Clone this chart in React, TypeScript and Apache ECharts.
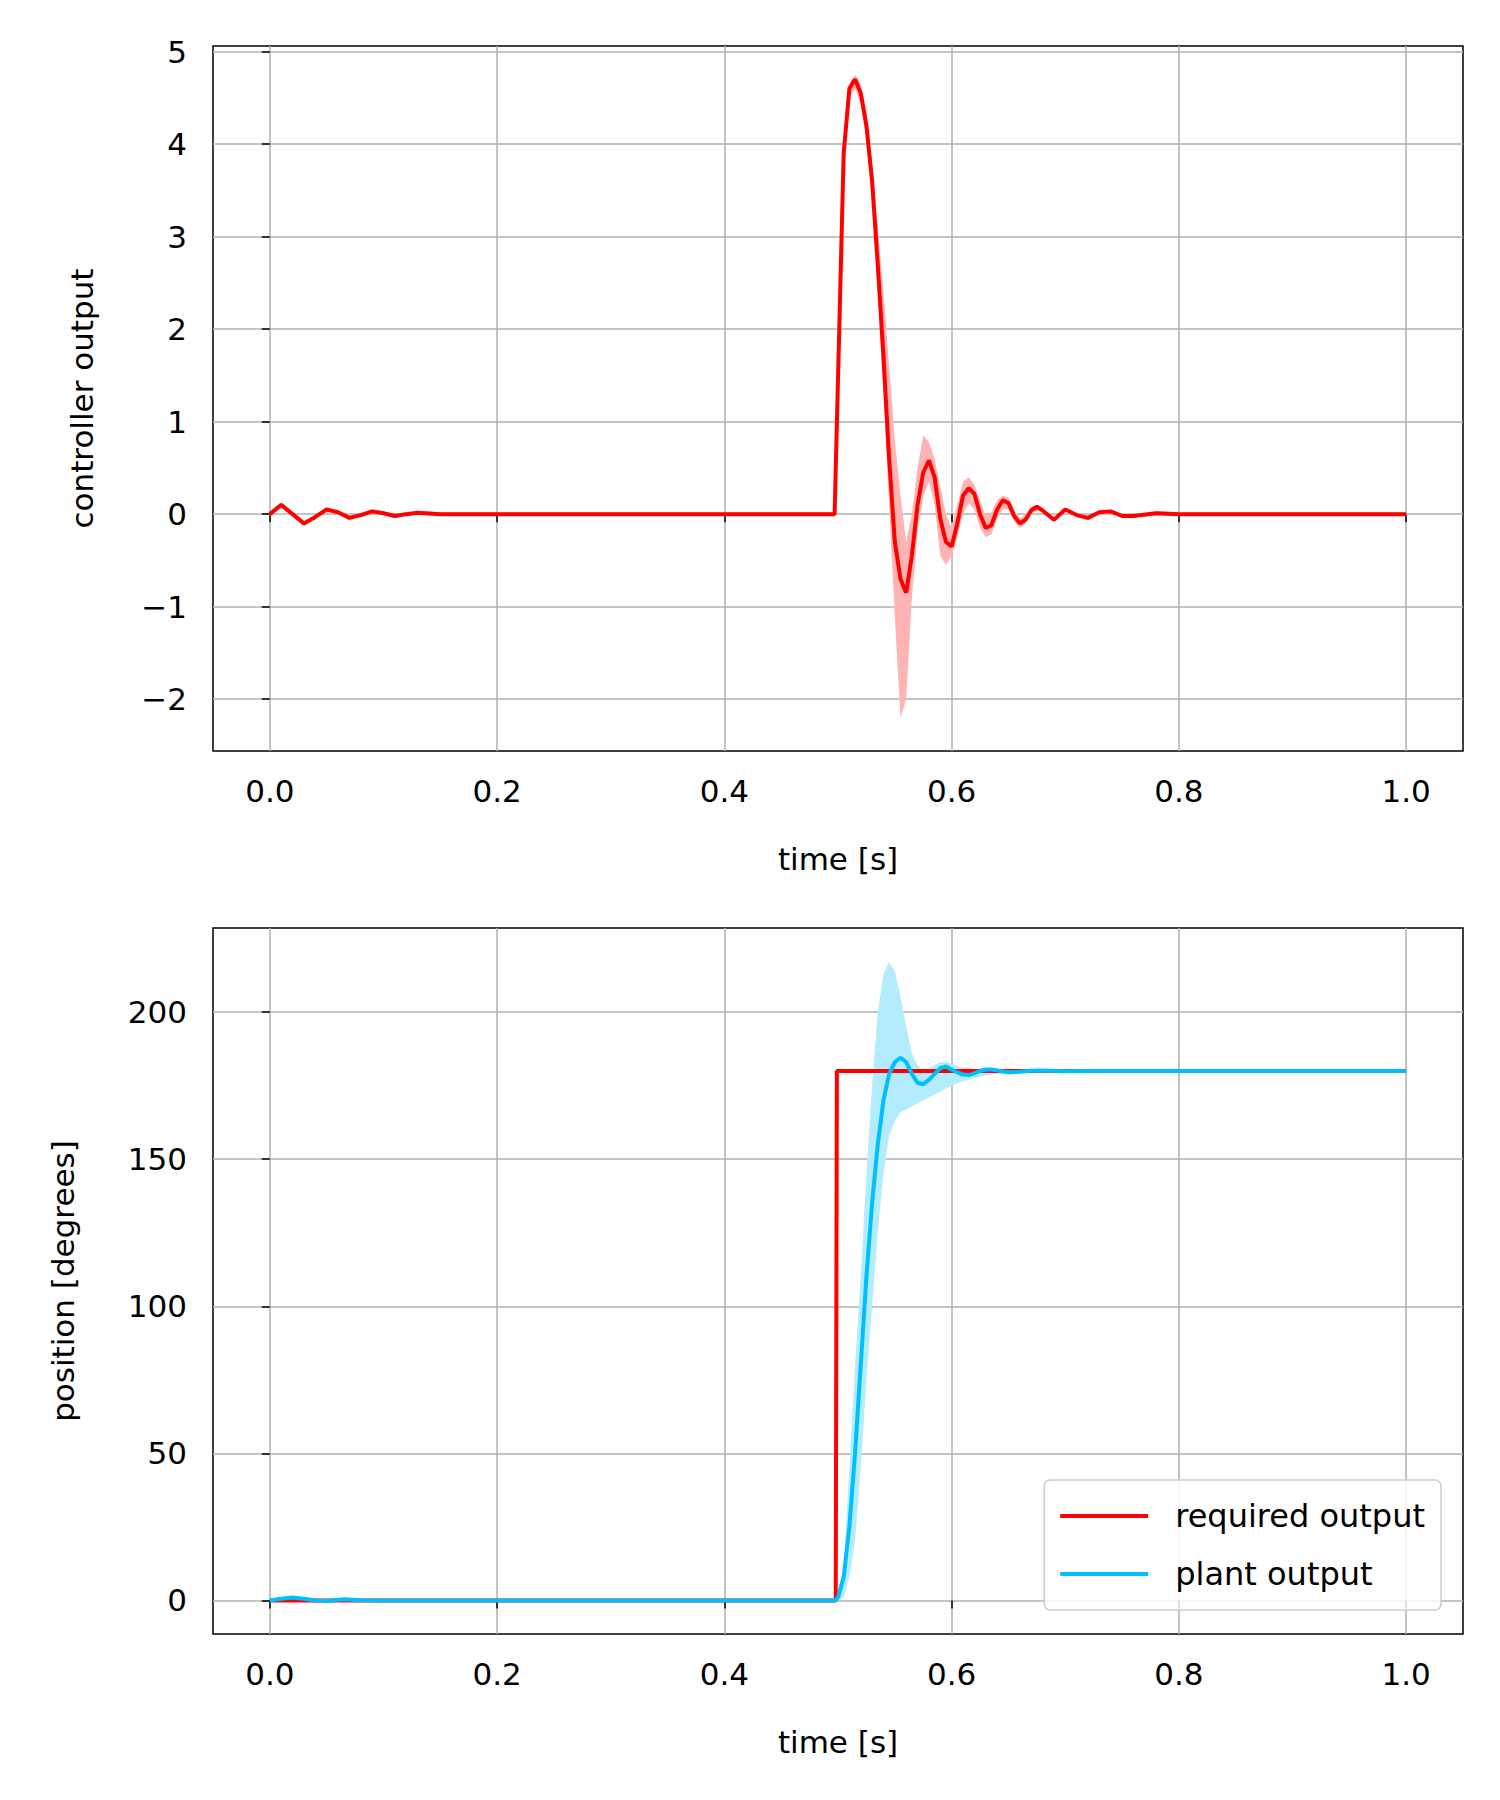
import React, { useEffect, useRef } from 'react';
import * as echarts from 'echarts';

// top panel: controller output
const tTop = [0, 0.01, 0.02, 0.03, 0.04, 0.05, 0.06, 0.07, 0.08, 0.09, 0.1, 0.11, 0.12, 0.13, 0.15, 0.2, 0.497,
  0.505, 0.51, 0.515, 0.52, 0.525, 0.53, 0.535, 0.54, 0.545, 0.55, 0.555, 0.56, 0.565, 0.57, 0.575, 0.58, 0.585,
  0.59, 0.595, 0.6, 0.605, 0.61, 0.615, 0.62, 0.625, 0.63, 0.635, 0.64, 0.645, 0.65, 0.655, 0.66, 0.665, 0.67, 0.675,
  0.68, 0.69, 0.7, 0.71, 0.72, 0.73, 0.74, 0.75, 0.76, 0.78, 0.8, 1.0];
const ctrlMean = [0, 0.1, 0.0, -0.1, -0.03, 0.05, 0.02, -0.04, -0.01, 0.03, 0.01, -0.02, 0, 0.015, 0, 0, 0,
  3.9, 4.6, 4.7, 4.55, 4.2, 3.6, 2.7, 1.7, 0.6, -0.3, -0.7, -0.85, -0.45, 0.1, 0.45, 0.58, 0.4,
  -0.05, -0.3, -0.35, -0.1, 0.2, 0.28, 0.22, 0, -0.15, -0.12, 0.05, 0.15, 0.12, -0.02, -0.1, -0.06, 0.04, 0.08,
  0.04, -0.06, 0.05, -0.01, -0.04, 0.02, 0.03, -0.02, -0.02, 0.01, 0, 0];
// band over the transient 0.505..0.675 (index 17..51)
const ctrlLowT = [3.8, 4.5, 4.6, 4.45, 4.05, 3.4, 2.4, 1.3, 0.1, -1.1, -2.2, -2.0, -0.9, -0.2, 0.2, 0.35, 0.1,
  -0.45, -0.55, -0.45, -0.25, 0.0, 0.12, 0.05, -0.15, -0.25, -0.22, -0.05, 0.05, 0.05, -0.08, -0.15, -0.1, 0.0, 0.04];
const ctrlHighT = [4.0, 4.65, 4.75, 4.65, 4.35, 3.8, 3.1, 2.4, 1.6, 0.8, 0.2, -0.3, 0.0, 0.5, 0.85, 0.78, 0.6,
  0.3, 0.0, -0.15, 0.1, 0.35, 0.4, 0.32, 0.15, -0.02, 0.02, 0.15, 0.2, 0.18, 0.05, -0.05, 0.0, 0.08, 0.1];
const ctrlBandStart = 17;

// bottom panel: position
const requiredT = [0, 0.498, 0.499, 1.0];
const requiredV = [0, 0, 180, 180];
const tBot = [0, 0.01, 0.02, 0.03, 0.04, 0.05, 0.065, 0.08, 0.1, 0.2, 0.497,
  0.5, 0.505, 0.51, 0.515, 0.52, 0.525, 0.53, 0.535, 0.54, 0.545, 0.55, 0.555, 0.56, 0.565, 0.57, 0.575,
  0.58, 0.585, 0.59, 0.595, 0.6, 0.605, 0.61, 0.615, 0.62, 0.625, 0.63, 0.635, 0.64, 0.645, 0.65,
  0.66, 0.67, 0.68, 0.7, 0.72, 0.75, 0.8, 1.0];
const plantMean = [0, 0.6, 1, 0.6, 0, -0.2, 0.4, 0.1, 0, 0, 0,
  1, 8, 25, 50, 80, 110, 135, 155, 170, 179, 183, 184.5, 183, 179, 176, 175.5,
  177, 179, 181, 181.5, 180.5, 179.5, 178.8, 178.6, 179.2, 180, 180.5, 180.5, 180.2, 179.8, 179.6,
  179.7, 180.1, 180.2, 179.9, 180, 180, 180, 180];
const plantLowT = [0, 1, 8, 20, 45, 75, 100, 125, 145, 158, 163, 166, 167, 168, 169, 170, 171, 172, 173, 174,
  175, 175.8, 176.5, 177, 177.5, 178, 178.5, 178.8, 179, 179.1, 179.2];
const plantHighT = [2, 12, 45, 80, 110, 145, 175, 200, 213, 217, 214, 205, 195, 186, 182, 180, 181, 182, 183, 183,
  182.5, 181.8, 181, 180.8, 180.5, 180.8, 181, 181, 180.8, 180.5, 180.3];
const plantBandStart = 11;

const xTicks = [0, 0.2, 0.4, 0.6, 0.8, 1.0];
const ctrlTicks = [-2, -1, 0, 1, 2, 3, 4, 5];
const posTicks = [0, 50, 100, 150, 200];

const FONT = 'DejaVu Sans';
const FS = 31;

function band(t: number[], mean: number[], lowT: number[], highT: number[], start: number, pad: number) {
  return t.map((x, i) => [
    x,
    i >= start && i < start + lowT.length ? lowT[i - start] : mean[i] - pad,
    i >= start && i < start + highT.length ? highT[i - start] : mean[i] + pad,
  ]);
}

// filled band between low and high as one polygon
function bandSeries(data: number[][], gridIndex: number, color: string) {
  return {
    type: 'custom',
    xAxisIndex: gridIndex,
    yAxisIndex: gridIndex,
    silent: true,
    clip: true,
    data: [0],
    renderItem: (params: any, api: any) => {
      const upper = data.map((d) => api.coord([d[0], d[2]]));
      const lower = data.map((d) => api.coord([d[0], d[1]])).reverse();
      return { type: 'polygon', shape: { points: upper.concat(lower) }, style: { fill: color } };
    },
    z: 1,
  };
}

const App: React.FC = () => {
  const chartRef = useRef<HTMLDivElement>(null);

  useEffect(() => {
    const cb = band(tTop, ctrlMean, ctrlLowT, ctrlHighT, ctrlBandStart, 0.02);
    const pb = band(tBot, plantMean, plantLowT, plantHighT, plantBandStart, 0.3);

    const xAxisBase = (gridIndex: number) => ({
      type: 'value',
      gridIndex,
      min: -0.05,
      max: 1.05,
      name: 'time [s]',
      nameLocation: 'middle',
      nameGap: 92,
      nameTextStyle: { fontSize: FS, color: '#000', fontFamily: FONT },
      axisLine: { show: false },
      axisTick: { show: true, inside: false, length: 8, lineStyle: { color: '#000', width: 1.5 }, customValues: xTicks },
      axisLabel: { fontSize: FS, color: '#000', fontFamily: FONT, margin: 24, customValues: xTicks, formatter: (v: number) => v.toFixed(1) },
      splitLine: { show: true, lineStyle: { color: '#b0b0b0', width: 1.5 } },
    });
    const yAxisBase = (gridIndex: number, min: number, max: number, ticks: number[], name: string, gap: number) => ({
      type: 'value',
      gridIndex,
      min,
      max,
      name,
      nameLocation: 'middle',
      nameGap: gap,
      nameTextStyle: { fontSize: FS, color: '#000', fontFamily: FONT },
      axisLine: { show: false },
      axisTick: { show: true, inside: false, length: 8, lineStyle: { color: '#000', width: 1.5 }, customValues: ticks },
      axisLabel: {
        fontSize: FS, color: '#000', fontFamily: FONT, margin: 26, customValues: ticks,
        formatter: (v: number) => (v < 0 ? '\u2212' + Math.abs(v) : String(v)),
      },
      splitLine: { show: true, lineStyle: { color: '#b0b0b0', width: 1.5 } },
    });

    const zip = (t: number[], v: number[]) => t.map((x, i) => [x, v[i]]);

    const option = {
      animation: false,
      backgroundColor: '#fff',
      grid: [
        { left: 213, right: 37, top: 46, height: 705, show: true, borderColor: '#000', borderWidth: 1.5, backgroundColor: 'transparent' },
        { left: 213, right: 37, top: 928, height: 706, show: true, borderColor: '#000', borderWidth: 1.5, backgroundColor: 'transparent' },
      ],
      xAxis: [xAxisBase(0), xAxisBase(1)],
      yAxis: [
        yAxisBase(0, -2.56, 5.06, ctrlTicks, 'controller output', 116),
        yAxisBase(1, -11.4, 228.6, posTicks, 'position [degrees]', 135),
      ],
      legend: {
        data: ['required output', 'plant output'],
        orient: 'vertical',
        right: 59,
        bottom: 190,
        padding: [20, 16, 20, 16],
        itemGap: 26,
        itemWidth: 88,
        itemHeight: 4,
        icon: 'rect',
        borderColor: '#cccccc',
        borderWidth: 1.5,
        borderRadius: 6,
        backgroundColor: 'rgba(255,255,255,0.85)',
        textStyle: { fontSize: 32, color: '#000', fontFamily: FONT, padding: [0, 0, 0, 22] },
      },
      series: [
        bandSeries(cb, 0, '#ffb3b3'),
        { name: 'controller output', type: 'line', xAxisIndex: 0, yAxisIndex: 0, symbol: 'none', z: 3, lineStyle: { color: '#ff0000', width: 4 }, data: zip(tTop, ctrlMean) },
        bandSeries(pb, 1, '#b3ecff'),
        { name: 'required output', type: 'line', xAxisIndex: 1, yAxisIndex: 1, symbol: 'none', z: 3, color: '#ff0000', lineStyle: { color: '#ff0000', width: 4 }, data: zip(requiredT, requiredV) },
        { name: 'plant output', type: 'line', xAxisIndex: 1, yAxisIndex: 1, symbol: 'none', z: 4, color: '#00bfff', lineStyle: { color: '#00bfff', width: 4 }, data: zip(tBot, plantMean) },
      ],
    };

    const chart = echarts.init(chartRef.current, null, { renderer: 'svg' });
    chart.setOption(option as any);
    return () => {
      chart.dispose();
    };
  }, []);

  return <div ref={chartRef} style={{ width: '1500px', height: '1800px', margin: '-8px' }}></div>;
};

export default App;
